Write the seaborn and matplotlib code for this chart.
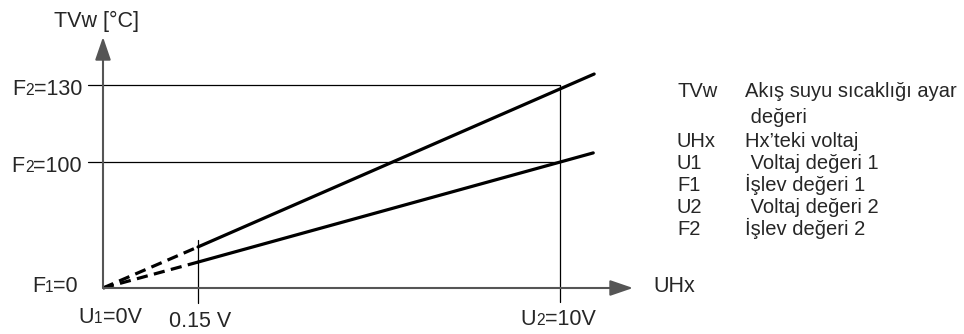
import matplotlib
matplotlib.use('Agg')
import matplotlib.pyplot as plt
import seaborn as sns

# schematic positions (not to scale)
x_marks = [0, 2.08, 10]
x_labels = [('U', '1', '=0V'), ('0.15 V', '', ''), ('U', '2', '=10V')]
y_marks = [0, 80.7, 130]
y_labels = [('F', '1', '=0'), ('F', '2', '=100'), ('F', '2', '=130')]

# curves: dashed part from origin to 0.15 V, solid part beyond
upper_x = [0, 2.08, 10.75]
upper_y = [0, 26.3, 137]
lower_x = [0, 2.08, 10.73]
lower_y = [0, 16.6, 86.5]

legend_keys = ['TVw', '', 'UHx', 'U1', 'F1', 'U2', 'F2']
legend_desc = ['Akış suyu sıcaklığı ayar', ' değeri', 'Hx’teki voltaj', ' Voltaj değeri 1',
               'İşlev değeri 1', ' Voltaj değeri 2', 'İşlev değeri 2']

sns.set_theme(style='white')
plt.rcParams['font.family'] = ['Liberation Sans', 'DejaVu Sans']

fig = plt.figure(figsize=(9.64, 3.34), dpi=100)
ax = fig.add_axes([103 / 964, 46 / 334, 530 / 964, 251 / 334])
ax.set_xlim(0, 11.6)
ax.set_ylim(0, 160.7)
ax.axis('off')
renderer = fig.canvas.get_renderer()

fs = 15.5


def label(parts, x, y, dx, dy, ha):
    # draw main text + small subscript digit + rest on one baseline
    # dx, dy in pixels (dy positive = down)
    pieces = [(parts[0], fs), (parts[1], fs * 0.72), (parts[2], fs)]
    pieces = [p for p in pieces if p[0]]
    widths = []
    for s, size in pieces:
        t = fig.text(0, 0, s, fontsize=size)
        widths.append(t.get_window_extent(renderer).width)
        t.remove()
    total = sum(widths)
    pos = {'left': 0, 'center': -total / 2, 'right': -total}[ha] + dx
    for (s, size), w in zip(pieces, widths):
        ax.annotate(s, xy=(x, y), xytext=(pos * 0.72, -dy * 0.72), textcoords='offset points',
                    ha='left', va='baseline', fontsize=size, annotation_clip=False)
        pos += w


# axes with arrow heads
axis_col = '#555555'
arrow = dict(arrowstyle='-|>,head_length=14,head_width=4.8', mutation_scale=1,
             color=axis_col, lw=1.5, shrinkA=0, shrinkB=0)
ax.annotate('', xy=(11.6, 0), xytext=(0, 0), arrowprops=arrow, annotation_clip=False)
ax.annotate('', xy=(0, 160.7), xytext=(0, 0), arrowprops=arrow, annotation_clip=False)

# reference lines
for y in y_marks[1:]:
    ax.plot([-0.33, x_marks[2]], [y, y], color='black', lw=0.9, clip_on=False)
ax.plot([x_marks[2], x_marks[2]], [-9, y_marks[2]], color='black', lw=0.9, clip_on=False)
ax.plot([x_marks[1], x_marks[1]], [-9.6, 30.7], color='black', lw=0.9, clip_on=False)

# characteristic curves
for xs, ys in [(upper_x, upper_y), (lower_x, lower_y)]:
    sns.lineplot(x=xs[:2], y=ys[:2], ax=ax, color='black', lw=2.3, linestyle=(0, (3.5, 2)), clip_on=False)
    sns.lineplot(x=xs[1:], y=ys[1:], ax=ax, color='black', lw=2.3, clip_on=False)

# y labels
label(y_labels[0], 0, y_marks[0], -25, 4, 'right')
for y, lab in zip(y_marks[1:], y_labels[1:]):
    label(lab, 0, y, -21, 10, 'right')
# x labels
label(x_labels[0], x_marks[0], 0, 7, 35, 'center')
label(x_labels[1], x_marks[1], 0, 2, 39, 'center')
label(x_labels[2], x_marks[2], 0, -2, 37, 'center')
label(('UHx', '', ''), 11.6, 0, 20, 4, 'left')
label(('TVw [°C]', '', ''), 0, 160.7, -7, -10, 'center')

# legend block (baseline rows, pixels from top)
row_base = [97, 123, 147, 169, 191, 213, 235]
for ypx, k, d in zip(row_base, legend_keys, legend_desc):
    fig.text(677 / 964, 1 - ypx / 334, k, ha='left', va='baseline', fontsize=14.5)
    fig.text(745 / 964, 1 - ypx / 334, d, ha='left', va='baseline', fontsize=14.5)

fig.savefig('out.png', dpi=100)
